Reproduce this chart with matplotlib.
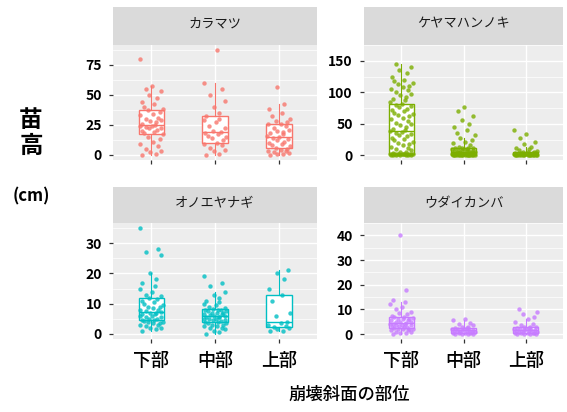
import matplotlib
matplotlib.use("Agg")
import matplotlib.pyplot as plt
import numpy as np

plt.rcParams["font.family"] = ["Noto Sans CJK JP", "DejaVu Sans"]

positions = ["下部", "中部", "上部"]
species = ["カラマツ", "ケヤマハンノキ", "オノエヤナギ", "ウダイカンバ"]
colors = ["#F8766D", "#7CAE00", "#00BFC4", "#C77CFF"]
yticks = [[0, 25, 50, 75], [0, 50, 100, 150], [0, 10, 20, 30], [0, 10, 20, 30, 40]]

# seedling height (cm) for lower / middle / upper slope
karamatsu_lower = [0, 1, 2, 3, 5, 7, 9, 11, 13, 15, 17.5, 18, 19, 20, 21, 22, 22, 23, 24, 24,
                   25, 26, 27, 28, 29, 30, 31, 33, 34, 36, 37, 38, 40, 42, 44, 47, 50, 53, 55, 57, 80]
karamatsu_middle = [0, 1, 3, 4, 6, 8, 9, 10, 12, 14, 15, 16, 17, 18, 19, 20, 22, 24, 27, 29,
                    30, 32, 35, 40, 45, 50, 55, 60, 87]
karamatsu_upper = [0, 0.5, 1, 1.5, 2, 3, 3.5, 4, 5, 6, 7, 8, 9, 10, 11, 12, 13, 14, 15, 16, 17,
                   18, 19, 20, 21, 22, 24, 25.5, 26, 27, 28, 30, 32, 35, 38, 42, 56]

keyama_lower = [0, 0, 0.5, 0.5, 1, 1, 1, 1.5, 1.5, 2, 2, 2, 2, 2.5, 2.5, 2.5, 3, 3, 3, 3, 3,
                4, 5, 6, 8, 10, 12, 14, 16, 18, 20, 22, 24, 26, 28, 30, 32, 34, 35, 37, 38,
                40, 42, 45, 48, 50, 52, 55, 58, 60, 62, 64, 66, 68, 70, 72, 74, 76, 78, 80, 82,
                85, 88, 90, 93, 95, 98, 100, 103, 105, 108, 110, 113, 115, 118, 120, 125, 130,
                135, 140, 145]
keyama_middle = [0, 0, 0, 0.5, 0.5, 0.5, 0.5, 1, 1, 1, 1, 1, 1, 1, 1, 1,
                 1.5, 1.5, 2, 2, 2, 2.5, 3, 3, 3.5, 3.5, 4, 4, 4.5, 5, 5,
                 5.5, 6, 6.5, 7, 7.5, 8, 8.5, 9, 9.5, 10, 10.5, 11, 11.5, 12, 12.5,
                 14, 16, 19, 22, 25, 28, 32, 36, 40, 45, 50, 56, 62, 70, 77]
keyama_upper = [0, 0, 0, 0, 0, 0, 0.5, 0.5, 0.5, 0.5, 0.5, 1, 1, 1, 1, 1.5, 1.5, 1.5, 2, 2, 2,
                2.5, 3, 3, 3.5, 4, 4, 4.5, 5, 5.5, 6, 7, 8, 10, 12, 14, 18, 22, 28, 34, 40]

onoe_lower = [1, 1.5, 2, 2, 2.5, 3, 3, 3.5, 3.5, 4, 4, 4.2, 4.4, 4.6, 5, 5, 5.5, 5.5, 6, 6,
              6.5, 6.5, 7, 7, 7.3, 7.5, 8, 8, 8.5, 9, 9, 9.5, 10, 10.5, 11, 11.5, 12,
              12.5, 13, 14, 15, 16, 17, 18, 20, 26, 27, 28, 35]
onoe_middle = [0, 0.5, 1, 1.5, 2, 2, 2.5, 2.5, 3, 3, 3.5, 3.5, 4, 4, 4.2, 4.5, 4.5, 5, 5, 5,
               5.5, 5.5, 5.5, 6, 6, 6.2, 6.5, 6.5, 6.8, 7, 7, 7.5, 7.5, 7.8, 8, 8, 8.3,
               8.5, 9, 9.5, 10, 10.5, 11, 12, 13, 14, 16, 17, 19]
onoe_upper = [1, 1, 1.5, 2, 2.2, 2.5, 3, 3.5, 4, 6, 7, 11, 12.7, 15, 18, 20, 21]

udai_lower = [0, 0.5, 0.5, 1, 1, 1.5, 1.5, 2, 2, 2, 2.2, 2.5, 2.8, 3, 3, 3.2, 3.5, 3.5, 3.8,
              4, 4, 4.2, 4.5, 4.8, 5, 5, 5.5, 5.5, 6, 6, 6.2, 6.5, 6.8, 7,
              7.5, 8, 8.5, 9, 10, 11, 12, 13, 14, 18, 40]
udai_middle = [0, 0, 0, 0.2, 0.3, 0.4, 0.5, 0.5, 0.8, 1, 1, 1.2, 1.3, 1.4, 1.5,
               1.6, 1.8, 2, 2, 2.2, 2.4, 2.5, 3, 3, 3.5, 4, 4.5, 5.5, 6]
udai_upper = [0, 0, 0, 0.2, 0.3, 0.4, 0.5, 0.5, 0.5, 0.8, 1, 1, 1.2, 1.4, 1.5, 1.6, 1.8,
              2, 2, 2.2, 2.4, 2.5, 2.8, 3, 3, 3.5, 4, 5, 6, 7, 8, 9, 10]

heights = [
    [karamatsu_lower, karamatsu_middle, karamatsu_upper],
    [keyama_lower, keyama_middle, keyama_upper],
    [onoe_lower, onoe_middle, onoe_upper],
    [udai_lower, udai_middle, udai_upper],
]

# fixed horizontal jitter, cycled over the points of each group
JITTER = [-0.14, 0.07, -0.02, 0.16, -0.08, 0.11, -0.17, 0.03, 0.13, -0.05, 0.18,
          -0.11, 0.05, -0.15, 0.09, -0.03, 0.15, -0.09, 0.01, -0.18, 0.06]

W, H = 567, 412
fig = plt.figure(figsize=(W / 100, H / 100), dpi=100)

# panel boxes in pixels: (left, right, strip top, plot top, plot bottom)
cells = [(113, 317, 7, 45, 160), (364, 563, 7, 45, 160),
         (113, 317, 187, 223, 339), (364, 563, 187, 223, 339)]

for i, (x0, x1, s0, p0, p1) in enumerate(cells):
    ax = fig.add_axes([x0 / W, 1 - p1 / H, (x1 - x0) / W, (p1 - p0) / H])
    sax = fig.add_axes([x0 / W, 1 - p0 / H, (x1 - x0) / W, (p0 - s0) / H])
    sax.set_facecolor("#DADADA")
    sax.set_xticks([]); sax.set_yticks([])
    for sp in sax.spines.values():
        sp.set_visible(False)
    sax.text(0.5, 0.55, species[i], ha="center", va="center", fontsize=9.5, color="#1A1A1A",
             transform=sax.transAxes)

    ax.set_facecolor("#EDEDED")
    for sp in ax.spines.values():
        sp.set_visible(False)
    c = colors[i]
    data = heights[i]
    xs = np.arange(1, 4)
    ax.boxplot(data, positions=xs, widths=0.4, showfliers=False, patch_artist=True,
               boxprops=dict(facecolor="white", edgecolor=c, linewidth=1.0),
               medianprops=dict(color=c, linewidth=1.0),
               whiskerprops=dict(color=c, linewidth=0.8),
               capprops=dict(linewidth=0), zorder=2)
    for k, vals in enumerate(data):
        px = [xs[k] + JITTER[j % len(JITTER)] for j in range(len(vals))]
        ax.scatter(px, vals, s=10, color=c, alpha=0.8, linewidths=0, zorder=3)

    lo = min(min(v) for v in data)
    hi = max(max(v) for v in data)
    pad = (hi - lo) * 0.05
    ax.set_ylim(lo - pad, hi + pad)
    ax.set_xlim(0.4, 3.6)
    yt = yticks[i]
    ax.set_yticks(yt)
    ax.set_yticklabels([str(t) for t in yt], fontsize=10, fontweight="bold")
    step = yt[1] - yt[0]
    ax.set_yticks([t + step / 2 for t in yt], minor=True)
    ax.set_xticks(xs)
    if i >= 2:
        ax.set_xticklabels(positions, fontsize=13, fontweight="medium")
    else:
        ax.set_xticklabels([])
    ax.tick_params(axis="both", which="major", length=3, width=0.9, color="#333333")
    ax.tick_params(axis="y", pad=5)
    ax.tick_params(axis="x", pad=6)
    ax.tick_params(axis="y", which="minor", length=0)
    ax.grid(True, which="major", color="white", linewidth=1.0)
    ax.grid(True, which="minor", axis="y", color="white", linewidth=0.5)
    ax.set_axisbelow(True)

fig.text(31 / W, 1 - 120 / H, "苗", fontsize=17, fontweight="bold", ha="center", va="center")
fig.text(31 / W, 1 - 146 / H, "高", fontsize=17, fontweight="bold", ha="center", va="center")
fig.text(31 / W, 1 - 196 / H, "(cm)", fontsize=12, fontweight="bold", ha="center", va="center")
fig.text(349 / W, 1 - 395 / H, "崩壊斜面の部位", fontsize=12.5, fontweight="medium",
         ha="center", va="center")

fig.savefig("out.png", dpi=100)
